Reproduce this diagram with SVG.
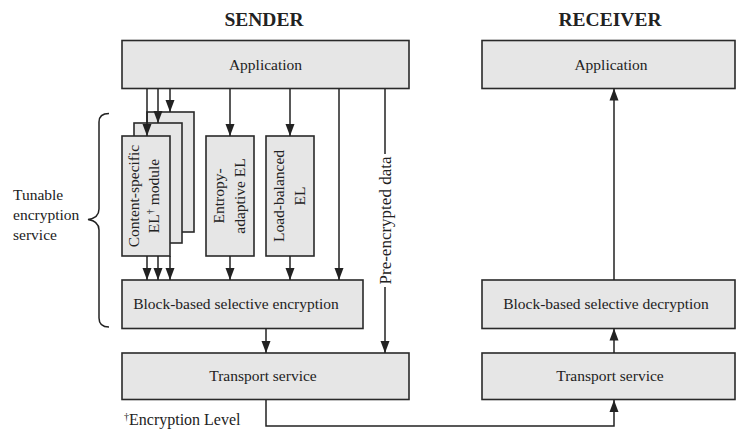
<svg xmlns="http://www.w3.org/2000/svg" width="736" height="430" viewBox="0 0 736 430">
  <defs>
    <style>
      .box { fill: #e6e6e6; stroke: #2a2a2a; stroke-width: 1.6; }
      .t { font-family: "Liberation Serif", "Times New Roman", serif; font-size: 15.5px; fill: #222; }
      .c { text-anchor: middle; }
      .title { font-family: "Liberation Serif", "Times New Roman", serif; font-size: 19.5px; font-weight: bold; fill: #222; text-anchor: middle; }
      .ln { fill: none; stroke: #222; stroke-width: 1.5; }
      .arr { marker-end: url(#head); }
      .sup { font-size: 10px; }
    </style>
    <marker id="head" markerUnits="userSpaceOnUse" markerWidth="12" markerHeight="10" refX="12" refY="5" orient="auto">
      <path d="M0,0.5 L12,5 L0,9.5 Z" fill="#222"/>
    </marker>
  </defs>

  <rect width="736" height="430" fill="#ffffff"/>

  <!-- column headings -->
  <text class="title" x="264" y="26">SENDER</text>
  <text class="title" x="610" y="26">RECEIVER</text>

  <!-- sender side -->
  <g id="sender-application">
    <rect class="box" x="122" y="40.5" width="287" height="48"/>
    <text class="t c" x="265.5" y="70">Application</text>
  </g>

  <g id="content-specific-el">
    <rect class="box" x="147" y="112" width="47" height="120"/>
    <rect class="box" x="134" y="123" width="48" height="120"/>
    <rect class="box" x="122" y="136" width="48" height="120"/>
    <text class="t c" transform="translate(138.5,196) rotate(-90)">Content-specific</text>
    <text class="t c" transform="translate(158.5,196) rotate(-90)">EL<tspan class="sup" dy="-5">†</tspan><tspan dy="5"> module</tspan></text>
  </g>

  <g id="entropy-adaptive-el">
    <rect class="box" x="206" y="136" width="48" height="120"/>
    <text class="t c" transform="translate(224,196) rotate(-90)">Entropy-</text>
    <text class="t c" transform="translate(245,196) rotate(-90)">adaptive EL</text>
  </g>

  <g id="load-balanced-el">
    <rect class="box" x="266" y="136" width="48" height="120"/>
    <text class="t c" transform="translate(283.5,196) rotate(-90)">Load-balanced</text>
    <text class="t c" transform="translate(305,196) rotate(-90)">EL</text>
  </g>

  <g id="block-encryption">
    <rect class="box" x="122" y="280" width="241" height="48.5"/>
    <text class="t c" x="236" y="309">Block-based selective encryption</text>
  </g>

  <g id="sender-transport">
    <rect class="box" x="122" y="353" width="287" height="46.5"/>
    <text class="t c" x="263" y="381">Transport service</text>
  </g>

  <g id="tunable-service">
    <path class="ln" d="M109,113.5 C102,113.5 99,116 99,122 V209 C99,215 95,218.5 88,219.5 C95,220.5 99,224 99,230 V318 C99,324 102,327 109,327"/>
    <text class="t" x="13" y="200">Tunable</text>
    <text class="t" x="13" y="220">encryption</text>
    <text class="t" x="13" y="240">service</text>
  </g>

  <g id="footnote">
    <text class="t" x="124" y="425" style="font-size:16px"><tspan class="sup" dy="-5">†</tspan><tspan dy="5">Encryption Level</tspan></text>
  </g>

  <!-- receiver side -->
  <g id="receiver-application">
    <rect class="box" x="482" y="40.5" width="253" height="48"/>
    <text class="t c" x="611" y="70">Application</text>
  </g>

  <g id="block-decryption">
    <rect class="box" x="482" y="280" width="253" height="48.5"/>
    <text class="t c" x="606" y="309">Block-based selective decryption</text>
  </g>

  <g id="receiver-transport">
    <rect class="box" x="482" y="353" width="253" height="46.5"/>
    <text class="t c" x="610" y="381">Transport service</text>
  </g>

  <!-- connectors -->
  <g id="connectors">
    <path class="ln arr" d="M147,89 V136"/>
    <path class="ln arr" d="M158,89 V123"/>
    <path class="ln arr" d="M170,89 V112"/>
    <path class="ln arr" d="M230,89 V136"/>
    <path class="ln arr" d="M290,89 V136"/>
    <path class="ln arr" d="M339,89 V280"/>

    <path class="ln" d="M385,89 V154"/>
    <path class="ln arr" d="M385,287 V353"/>
    <text class="t c" style="font-size:17px" transform="translate(391,220.5) rotate(-90)">Pre-encrypted data</text>

    <path class="ln arr" d="M147,256 V280"/>
    <path class="ln arr" d="M158,256 V280"/>
    <path class="ln arr" d="M170,256 V280"/>
    <path class="ln arr" d="M230,256 V280"/>
    <path class="ln arr" d="M290,256 V280"/>

    <path class="ln arr" d="M266,328.5 V353"/>
    <path class="ln arr" d="M266,400 V426 H614 V400"/>

    <path class="ln arr" d="M614,353 V328.5"/>
    <path class="ln arr" d="M614,280 V88.5"/>
  </g>
</svg>
